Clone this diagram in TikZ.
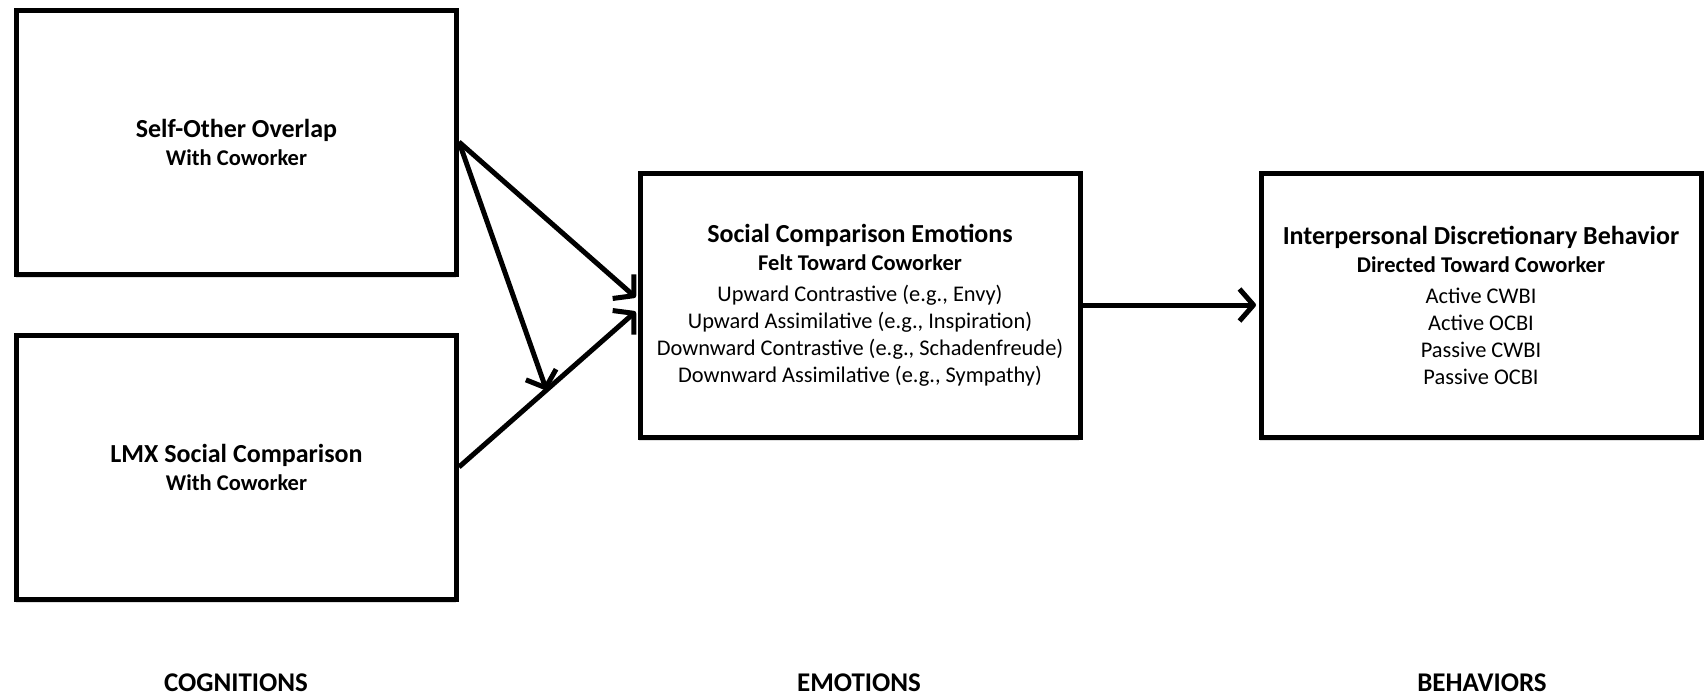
\documentclass[tikz,border=0pt]{standalone}
\usepackage{fontspec}
\setmainfont{Carlito}
\usetikzlibrary{arrows.meta,shadows}

\begin{document}
\begin{tikzpicture}[
    x=1pt, y=-1pt,
    every node/.style = {align=center, font=\fontsize{22.4}{27}\selectfont},
    box/.style = {draw, line width=5pt, fill=white, inner sep=0pt,
        minimum width=440pt, minimum height=264pt,
        drop shadow={shadow xshift=-1pt, shadow yshift=-4pt, opacity=0.25}},
    arr/.style = {line width=5pt, line join=round, shorten >=2.5pt,
        -{Straight Barb[length=14pt, width=32pt, line join=round]}},
    stage/.style = {font=\fontsize{27}{30}\selectfont\bfseries}
    ]
    \useasboundingbox (0,0) rectangle (1705,697);

    % the four boxes
    \node[box] (selfbox) at (236.5,142) {{\fontsize{26}{29}\selectfont\bfseries Self-Other Overlap}\\[1pt]
        {\fontsize{22.5}{27}\selectfont\bfseries With Coworker}};
    \node[box] (lmxbox) at (236.5,467) {{\fontsize{26}{29}\selectfont\bfseries LMX Social Comparison}\\[1pt]
        {\fontsize{22.5}{27}\selectfont\bfseries With Coworker}};
    \node[box] (emobox) at (860,305) {{\fontsize{26}{29}\selectfont\bfseries Social Comparison Emotions}\\[1pt]
        {\fontsize{22.5}{27}\selectfont\bfseries Felt Toward Coworker}\\[4pt]
        Upward Contrastive (e.g., Envy)\\
        Upward Assimilative (e.g., Inspiration)\\
        Downward Contrastive (e.g., Schadenfreude)\\
        Downward Assimilative (e.g., Sympathy)};
    \node[box] (behbox) at (1481,305) {{\fontsize{26}{29}\selectfont\bfseries Interpersonal Discretionary Behavior}\\[1pt]
        {\fontsize{22.5}{27}\selectfont\bfseries Directed Toward Coworker}\\[4pt]
        Active CWBI\\
        Active OCBI\\
        Passive CWBI\\
        Passive OCBI};

    % arrows
    \draw[arr] (selfbox.east) -- ([yshift=6pt]emobox.west);
    \draw[arr] (lmxbox.east) -- coordinate[pos=0.49] (modpt) ([yshift=-5pt]emobox.west);
    \draw[arr, shorten >=0pt] (selfbox.east) -- (modpt);
    \draw[arr] (emobox.east) -- (behbox.west);

    % stage labels
    \node[stage] (cogn) at (236,683) {COGNITIONS};
    \node[stage] (emot) at (859,683) {EMOTIONS};
    \node[stage] (behav) at (1482,683) {BEHAVIORS};
\end{tikzpicture}
\end{document}
